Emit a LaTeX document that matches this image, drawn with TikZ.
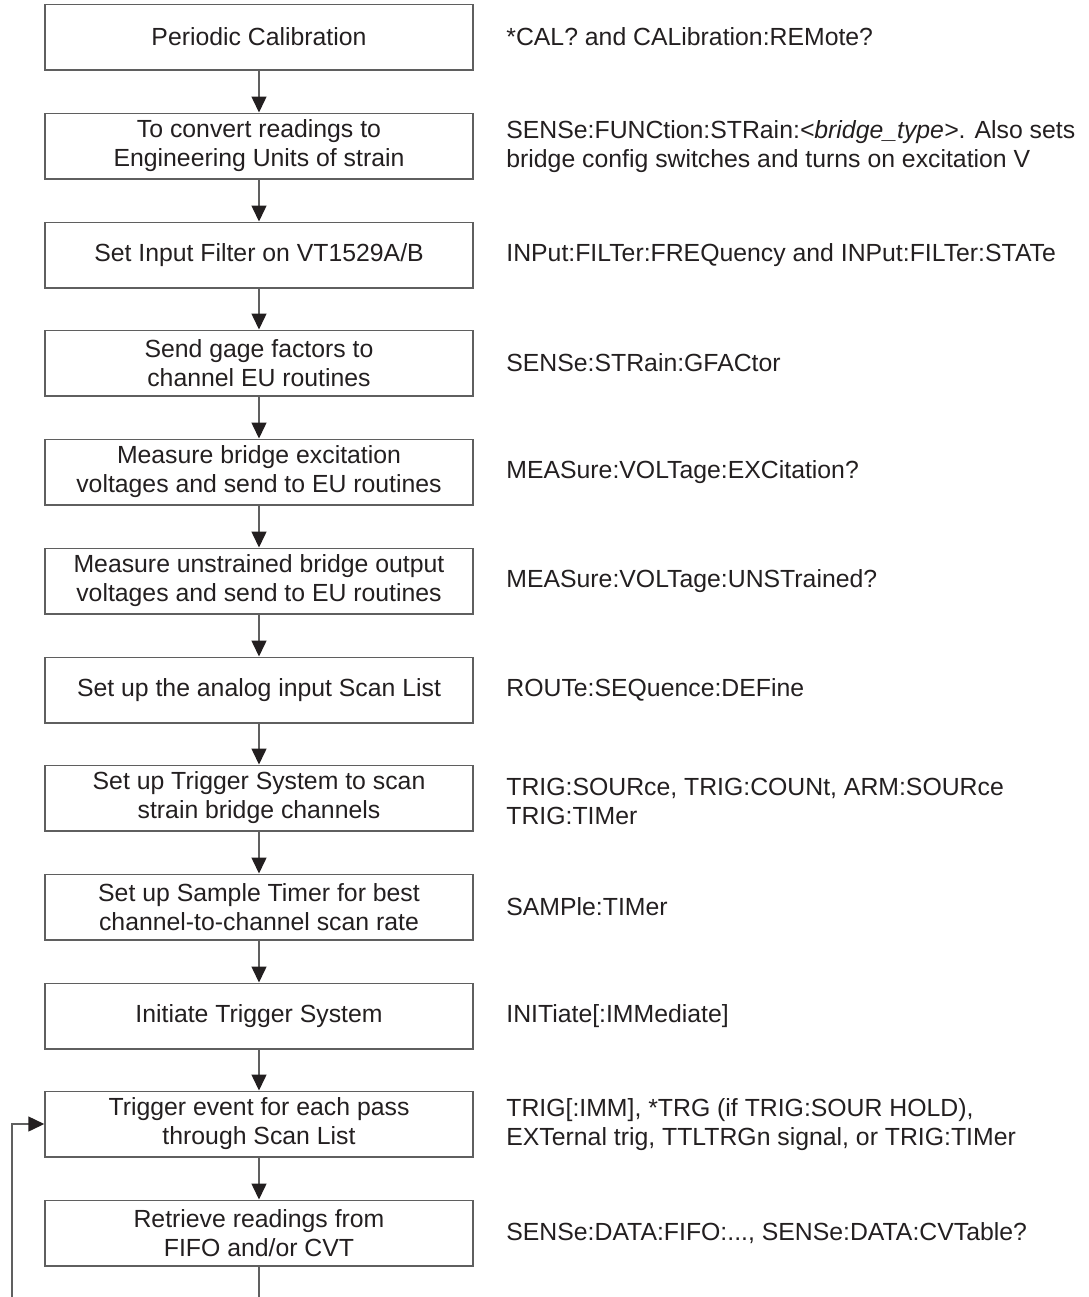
\documentclass[tikz,border=0pt]{standalone}
\usepackage{fontspec}
\setmainfont{Liberation Sans}
\usetikzlibrary{arrows.meta, positioning}
\definecolor{boxgray}{HTML}{5F5F5F}
\definecolor{linegray}{HTML}{606060}
\definecolor{inkblack}{HTML}{231F20}
\tikzset{
	flownode/.style={
			shape=rectangle,
			draw=boxgray,
			line width=0.75pt,
			minimum width=214pt,
			minimum height=32.75pt,
			inner sep=0pt,
			align=center,
			text=inkblack,
			font=\fontsize{12.4}{14.5}\selectfont
		},
	cmdtext/.style={
			anchor=west,
			align=left,
			inner sep=0pt,
			text=inkblack,
			font=\fontsize{12.4}{14.5}\selectfont
		}
}
\tikzset{
	flowline/.style={draw=linegray, line width=0.75pt},
	flowarrow/.style={
			flowline,
			-{Triangle[length=8pt,width=7.5pt,color=inkblack]}
		}
}

\begin{document}
\begin{tikzpicture}[x=0.5pt, y=-0.5pt]
				\useasboundingbox (0,0) rectangle (1088,1297);

				\node[flownode] (cal)   at (259,37)   {Periodic Calibration};
				\node[flownode] (conv)  at (259,146)  {To convert readings to\\Engineering Units of strain};
				\node[flownode] (filt)  at (259,255)  {Set Input Filter on VT1529A/B};
				\node[flownode] (gage)  at (259,363)  {Send gage factors to\\channel EU routines};
				\node[flownode] (exc)   at (259,472)  {Measure bridge excitation\\voltages and send to EU routines};
				\node[flownode] (unstr) at (259,581)  {Measure unstrained bridge output\\voltages and send to EU routines};
				\node[flownode] (scan)  at (259,690)  {Set up the analog input Scan List};
				\node[flownode] (trig)  at (259,798)  {Set up Trigger System to scan\\strain bridge channels};
				\node[flownode] (samp)  at (259,907)  {Set up Sample Timer for best\\channel-to-channel scan rate};
				\node[flownode] (init)  at (259,1016) {Initiate Trigger System};
				\node[flownode] (event) at (259,1124) {Trigger event for each pass\\through Scan List};
				\node[flownode] (retr)  at (259,1233) {Retrieve readings from\\FIFO and/or CVT};

				\node[cmdtext] (calcmd)   at (506,37)   {*CAL? and CALibration:REMote?};
				\node[cmdtext] (convcmd)  at (506,147)  {SENSe:FUNCtion:STRain:\textit{<bridge\_type>}. Also sets\\bridge config switches and turns on excitation V};
				\node[cmdtext] (filtcmd)  at (506,255)  {INPut:FILTer:FREQuency and INPut:FILTer:STATe};
				\node[cmdtext] (gagecmd)  at (506,363)  {SENSe:STRain:GFACtor};
				\node[cmdtext] (exccmd)   at (506,472)  {MEASure:VOLTage:EXCitation?};
				\node[cmdtext] (unstrcmd) at (506,581)  {MEASure:VOLTage:UNSTrained?};
				\node[cmdtext] (scancmd)  at (506,690)  {ROUTe:SEQuence:DEFine};
				\node[cmdtext] (trigcmd)  at (506,801)  {TRIG:SOURce, TRIG:COUNt, ARM:SOURce\\TRIG:TIMer};
				\node[cmdtext] (sampcmd)  at (506,907)  {SAMPle:TIMer};
				\node[cmdtext] (initcmd)  at (506,1016) {INITiate[:IMMediate]};
				\node[cmdtext] (eventcmd) at (506,1125) {TRIG[:IMM], *TRG (if TRIG:SOUR HOLD),\\EXTernal trig, TTLTRGn signal, or TRIG:TIMer};
				\node[cmdtext] (retrcmd)  at (506,1233) {SENSe:DATA:FIFO:..., SENSe:DATA:CVTable?};

				\coordinate (downend) at (259,1297);
				\coordinate (loopend) at (12,1297);

				\draw[flowarrow] (cal) -- (conv);
				\draw[flowarrow] (conv) -- (filt);
				\draw[flowarrow] (filt) -- (gage);
				\draw[flowarrow] (gage) -- (exc);
				\draw[flowarrow] (exc) -- (unstr);
				\draw[flowarrow] (unstr) -- (scan);
				\draw[flowarrow] (scan) -- (trig);
				\draw[flowarrow] (trig) -- (samp);
				\draw[flowarrow] (samp) -- (init);
				\draw[flowarrow] (init) -- (event);
				\draw[flowarrow] (event) -- (retr);

				\draw[flowline] (retr) -- (downend);
				\draw[flowarrow] (loopend) |- (event.west);

			\end{tikzpicture}
\end{document}
